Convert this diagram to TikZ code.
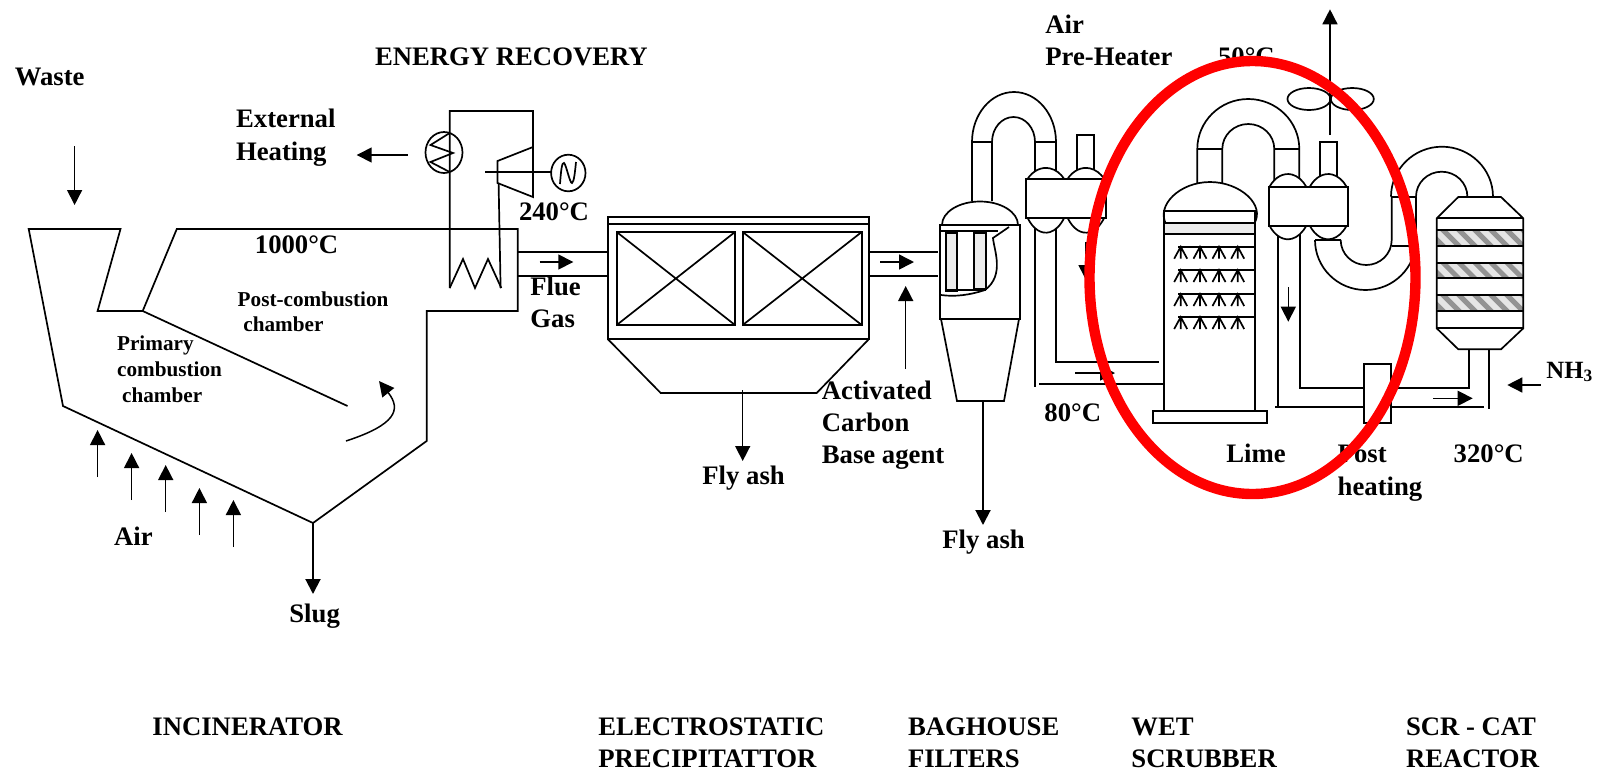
\documentclass[tikz,border=0pt]{standalone}
\usepackage{fontspec}
\setmainfont{Liberation Serif}
\usetikzlibrary{arrows.meta}
\tikzset{
  pipe/.style={line width=0.85pt, line join=miter},
  heavy/.style={line width=1.1pt},
  flow/.style={line width=0.75pt, -{Triangle[length=7.5pt,width=7.5pt]}},
  lbl/.style={anchor=base west, inner sep=0pt, font=\fontsize{13.35}{15}\selectfont\bfseries},
  smalllbl/.style={anchor=base west, inner sep=0pt, font=\fontsize{10.6}{12}\selectfont\bfseries},
}
\begin{document}
\begin{tikzpicture}[x=1pt, y=-1pt, scale=0.5]
    \useasboundingbox (0,0) rectangle (1614,778);
    % incinerator
    \draw[pipe] (28.7,229) -- (120.5,229) -- (97.6,311) -- (142.7,311) -- (176.8,229) -- (517.8,229)
       -- (517.8,311) -- (426.7,311) -- (426.7,441) -- (313,523) -- (63,406) -- cycle;
    \draw[pipe] (142.7,311) -- (347.5,406);
    \draw[flow] (74.6,146) -- (74.6,205);
    \draw[flow] (346,441) .. controls (395,425) and (402,410) .. (379,381);
    \foreach \x/\y in {97.6/477, 131.6/500, 165.7/512, 199.4/535, 233.4/547}
      \draw[flow] (\x,\y) -- (\x,\y-47);
    \draw[flow, line width=1pt] (313,523) -- (313,594);
    % energy recovery
    \draw[pipe] (449.7,288) -- (449.7,111) -- (533,111) -- (533,197) -- (497.5,183) -- (497.5,161) -- (533,147);
    \draw[pipe] (498.6,183) -- (500.6,288);
    \draw[pipe] (449.7,288) -- (463,259) -- (475,288) -- (488,259) -- (501.3,288);
    \draw[pipe] (444,152.5) ellipse [x radius=18.5pt, y radius=20.5pt];
    \draw[pipe] (449.7,133) -- (430.5,145) -- (453,153) -- (430.5,162) -- (449.7,172);
    \draw[flow] (407.6,155) -- (356.7,155);
    \draw[pipe] (485.3,172) -- (551,172);
    \draw[pipe] (568.3,173) ellipse [x radius=17.2pt, y radius=18.3pt];
    \draw[pipe] (560,184) .. controls (561,170) and (562,162) .. (564,163) .. controls (566,164) and (570,184) .. (572,183) .. controls (574,182) and (575,172) .. (576,162);
    % flue gas duct
    \draw[pipe] (517.8,252) -- (607.7,252) (517.8,276) -- (607.7,276);
    \draw[flow] (539.6,262) -- (573.3,262);
    % electrostatic precipitator
    \draw[heavy] (607.7,217) rectangle (869,339);
    \draw[pipe] (607.7,224) -- (869,224);
    \draw[pipe] (607.7,339) -- (660.7,393) -- (816.7,393) -- (869,339);
    \foreach \x/\w in {616.7/735, 742.7/861.7} {
      \draw[heavy] (\x,232) rectangle (\w,325);
      \draw[pipe] (\x,232) -- (\w,325) (\x,325) -- (\w,232);
    }
    \draw[flow] (742.7,390) -- (742.7,461);
    \draw[pipe] (869,252) -- (938,252) (869,276) -- (938,276);
    \draw[flow] (880,262) -- (914,262);
    \draw[flow] (905.7,369) -- (905.7,286);
    % baghouse filter
    \draw[pipe] (972,201) -- (972,142) arc[start angle=180, end angle=0, x radius=42pt, y radius=50pt] -- (1056,175);
    \draw[pipe] (992,201) -- (992,142) arc[start angle=180, end angle=0, x radius=21.5pt, y radius=25pt] -- (1035,175);
    \draw[pipe] (972,142) -- (992,142) (1035,142) -- (1056,142);
    \draw[pipe, fill=white] (942,225) arc[start angle=180, end angle=0, x radius=38pt, y radius=23.5pt];
    \draw[pipe] (940,225) rectangle (1020,319);
    \draw[pipe] (941,319) -- (957,401) -- (1004,401) -- (1019,319);
    \draw[heavy, fill=gray!15] (945.7,233) rectangle (957.3,290.7);
    \draw[pipe, fill=gray!15] (974.3,233) rectangle (986,289);
    \draw[pipe] (941,231) -- (998,231) (945,290) -- (986,290);
    \draw[pipe] (1009,227) -- (993,238) .. controls (994,250) and (1005,275) .. (985,290) .. controls (970,295) and (955,297) .. (941,295);
    \draw[flow, line width=1pt] (983,400) -- (983,525);
    % air pre-heater and duct to scrubber
    \draw[pipe] (1035,225) -- (1035,387) (1056,225) -- (1056,362) -- (1159,362);
    \draw[pipe] (1039,384) -- (1164,384);
    \draw[flow] (1075,373) -- (1115,373);
    \draw[flow] (1086,242) -- (1086,280);
    \draw[pipe] (1076.7,175) -- (1076.7,135) -- (1094,135) -- (1094,175);
    \foreach \x in {1046,1086} {
      \draw[pipe, fill=white] (\x-18.5,179) arc[start angle=140, end angle=40, x radius=24pt, y radius=31pt];
      \draw[pipe, fill=white] (\x-18.5,217.7) arc[start angle=220, end angle=320, x radius=24pt, y radius=42pt];
    }
    \draw[heavy, fill=white] (1026,179) rectangle (1106,217.7);
    % wet scrubber
    \draw[pipe] (1197.3,190) -- (1197.3,149) arc[start angle=180, end angle=0, x radius=51pt, y radius=50pt] -- (1299.3,180);
    \draw[pipe] (1222.3,190) -- (1222.3,149) arc[start angle=180, end angle=0, x radius=26pt, y radius=25pt] -- (1274.3,180);
    \draw[pipe] (1197.3,149) -- (1222.3,149) (1274.3,149) -- (1299.3,149);
    \draw[pipe, fill=white] (1166,224) .. controls (1156,205) and (1180,182) .. (1210,182) .. controls (1240,182) and (1266,205) .. (1254,224);
    \fill[gray!15] (1164,222.7) rectangle (1255,234.3);
    \draw[pipe] (1164,211) rectangle (1255,411);
    \draw[heavy] (1164,222.7) -- (1255,222.7) (1164,234.3) -- (1255,234.3);
    \draw[heavy] (1152.7,411) rectangle (1266.7,423);
    \foreach \y in {246.7,270,294,317} {
      \draw[pipe] (1178,\y) -- (1255,\y);
      \foreach \x in {1180.7,1200,1219,1237.7}
        \draw[pipe] (\x-6.5,\y+12) -- (\x,\y) -- (\x+6.5,\y+12) (\x,\y) -- (\x,\y+12);
    }
    % post heating duct, second exchanger and stack
    \draw[pipe] (1278.3,232) -- (1278.3,407) (1275,407) -- (1484.3,407);
    \draw[pipe] (1300,232) -- (1300,388.3) -- (1469.3,388.3) -- (1469.3,349.3);
    \draw[pipe] (1489.3,349.3) -- (1489.3,409.3);
    \draw[flow] (1288.3,287) -- (1288.3,321.7);
    \draw[flow] (1433,398.3) -- (1472.7,398.3);
    \draw[flow] (1540.7,385) -- (1507.3,385);
    \draw[pipe, fill=white] (1364,364.3) rectangle (1390.7,423.3);
    \draw[pipe] (1320,180) -- (1320,142.3) -- (1337.3,142.3) -- (1337.3,180);
    \draw[flow] (1330,135) -- (1330,9.3);
    \draw[pipe] (1309,99) ellipse [x radius=21.5pt, y radius=11pt];
    \draw[pipe] (1352.3,99) ellipse [x radius=21.5pt, y radius=11pt];
    \foreach \x in {1288,1328.3} {
      \draw[pipe, fill=white] (\x-18.5,186.7) arc[start angle=140, end angle=40, x radius=24pt, y radius=35.5pt];
      \draw[pipe, fill=white] (\x-18.5,225.7) arc[start angle=220, end angle=320, x radius=24pt, y radius=38pt];
    }
    \draw[heavy, fill=white] (1269,186.7) rectangle (1348.3,225.7);
    \draw[pipe] (1315,240) -- (1340.7,240);
    \draw[pipe] (1315,240) arc[start angle=180, end angle=360, x radius=50.5pt, y radius=50pt] -- (1416,196.7);
    \draw[pipe] (1340.7,240) arc[start angle=180, end angle=360, x radius=25.5pt, y radius=25pt] -- (1391.7,196.7);
    \draw[pipe] (1391.7,245.7) -- (1416,245.7);
    \draw[pipe] (1391,196.7) arc[start angle=180, end angle=0, x radius=51pt, y radius=50pt];
    \draw[pipe] (1416,196.7) arc[start angle=180, end angle=0, x radius=25.7pt, y radius=25pt];
    \draw[pipe] (1391,196.7) -- (1416,196.7);
    % SCR reactor
    \foreach \y in {230,262.7,295} {
      \fill[gray!20] (1436.7,\y) rectangle (1523.3,\y+16);
      \begin{scope}
        \clip (1436.7,\y) rectangle (1523.3,\y+16);
        \foreach \s in {1425,1441,...,1525}
          \draw[gray!85, line width=2.5pt] (\s,\y-2) -- (\s+20,\y+18);
      \end{scope}
    }
    \draw[pipe] (1458.3,197) -- (1501,197) -- (1523.3,218.3) -- (1523.3,328.3) -- (1501,349.3)
       -- (1458.3,349.3) -- (1436.7,328.3) -- (1436.7,218.3) -- cycle;
    \foreach \y in {218.3,230,246,262.7,278.3,295,311,328.3}
      \draw[heavy] (1436.7,\y) -- (1523.3,\y);
    % labels
    \node[lbl] (waste) at (14.4,85) {Waste};
    \node[lbl] (energy) at (374.6,65) {ENERGY RECOVERY};
    \node[lbl] (external) at (235.7,127) {External};
    \node[lbl] (heating) at (235.7,160) {Heating};
    \node[lbl] (t240) at (518.6,220) {240°C};
    \node[lbl] (t1000) at (254.5,253) {1000°C};
    \node[lbl] (flue) at (530,295) {Flue};
    \node[lbl] (gas) at (530,327) {Gas};
    \node[smalllbl] (postcomb) at (237.3,306) {Post-combustion};
    \node[smalllbl] (postchamber) at (243,331) {chamber};
    \node[smalllbl] (primary) at (116.7,350) {Primary};
    \node[smalllbl] (combustion) at (116.7,376) {combustion};
    \node[smalllbl] (primchamber) at (121.7,402) {chamber};
    \node[lbl] (air) at (113.7,545) {Air};
    \node[lbl] (slug) at (289,622) {Slug};
    \node[lbl] (flyash) at (702,484) {Fly ash};
    \node[lbl] (activated) at (821.5,399) {Activated};
    \node[lbl] (carbon) at (821.5,431) {Carbon};
    \node[lbl] (base) at (821.5,463) {Base agent};
    \node[lbl] (flyashb) at (942,548) {Fly ash};
    \node[lbl] (airh) at (1045,33) {Air};
    \node[lbl] (preheater) at (1045,65) {Pre-Heater};
    \node[lbl] (t50) at (1217.7,65) {50°C};
    \node[lbl] (t80) at (1044,421) {80°C};
    \node[lbl] (lime) at (1226,462.7) {Lime};
    \node[lbl] (post) at (1337.3,462.7) {Post};
    \node[lbl] (postheat) at (1337.3,495) {heating};
    \node[lbl] (t320) at (1453.3,462.7) {320°C};
    \node[lbl, font=\fontsize{12.4}{14}\selectfont\bfseries] (nh3) at (1546,378.3) {NH\textsubscript{3}};
    \node[lbl] (incin) at (152,735) {INCINERATOR};
    \node[lbl] (electro) at (598,735) {ELECTROSTATIC};
    \node[lbl] (precip) at (598,767) {PRECIPITATTOR};
    \node[lbl] (baghouse) at (907.6,735) {BAGHOUSE};
    \node[lbl] (filters) at (907.6,767) {FILTERS};
    \node[lbl] (wet) at (1131,735) {WET};
    \node[lbl] (scrubber) at (1131,767) {SCRUBBER};
    \node[lbl] (scr) at (1405.6,735) {SCR - CAT};
    \node[lbl] (reactor) at (1405.6,767) {REACTOR};
    % highlight
    \draw[red, line width=5.2pt] (1252.5,277.5) ellipse [x radius=163pt, y radius=216.5pt];
\end{tikzpicture}
\end{document}
